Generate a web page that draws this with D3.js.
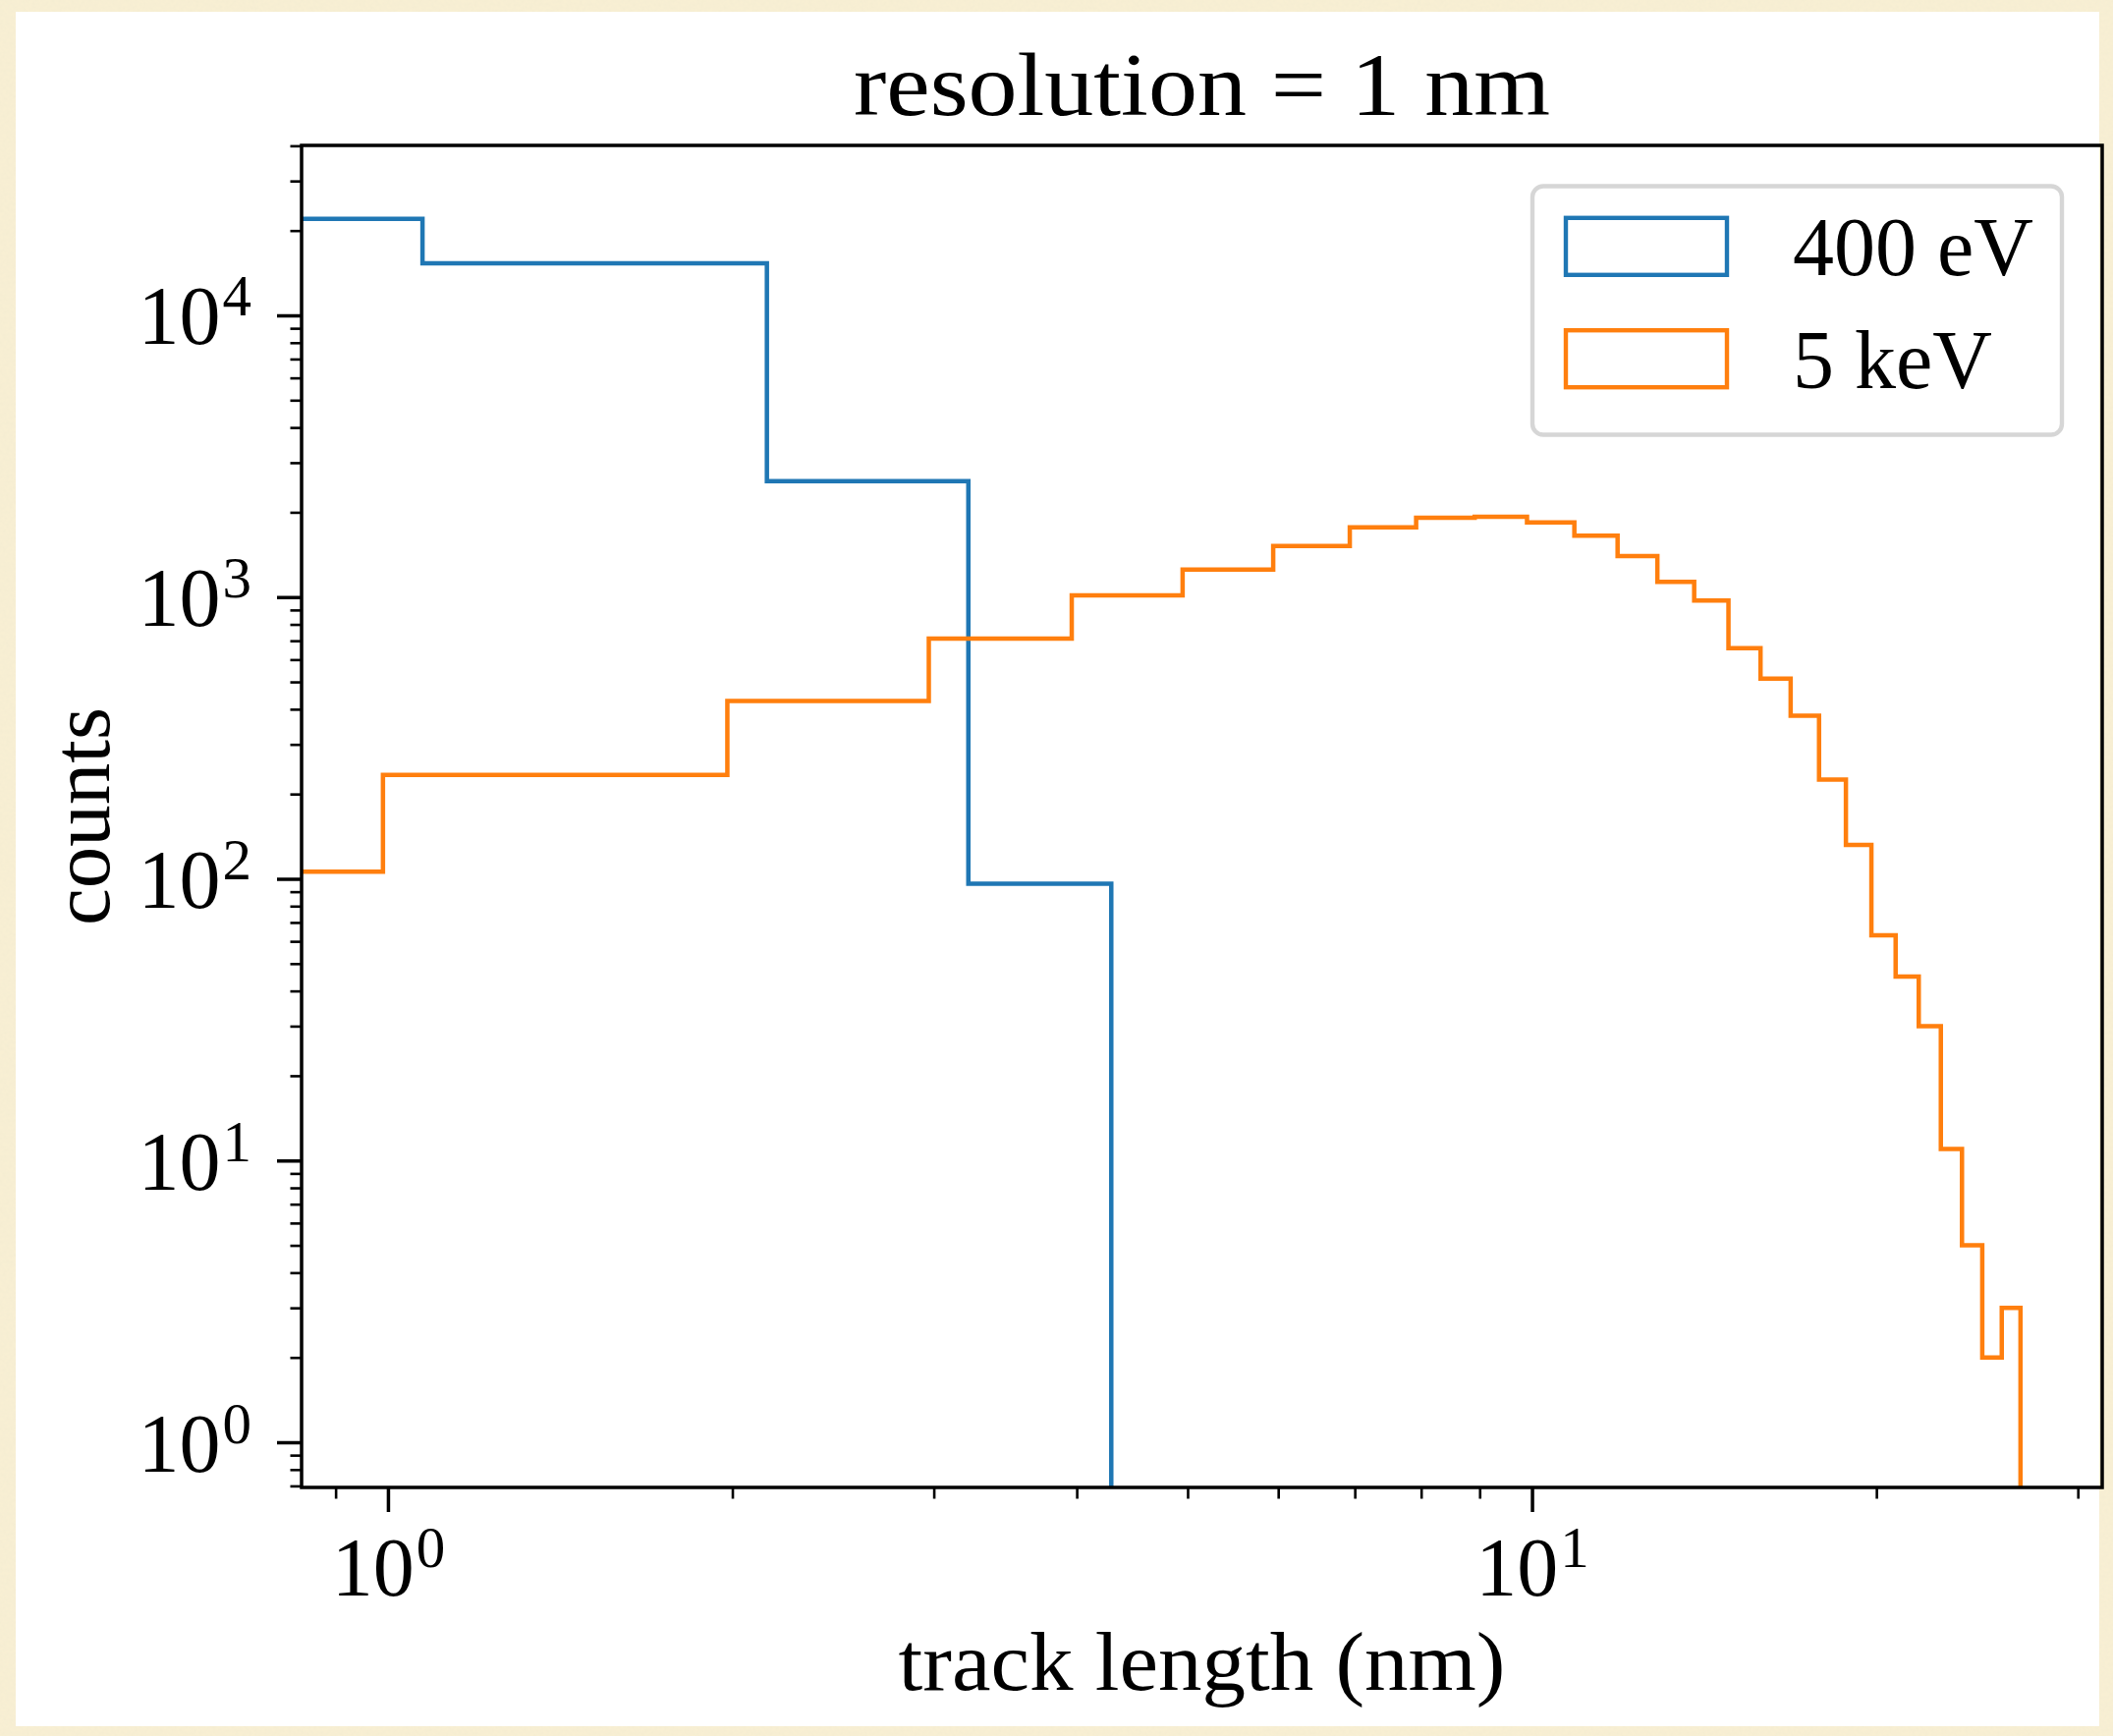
<!DOCTYPE html>
<html>
<head>
<meta charset="utf-8">
<script src="https://cdn.jsdelivr.net/npm/d3@7/dist/d3.min.js"></script>
<style>
  html, body { margin: 0; padding: 0; background: #f8efd3; }
  svg { display: block; }
  text { font-family: "Liberation Serif", "DejaVu Serif", serif; fill: #000; }
</style>
</head>
<body>
<svg id="chart" width="2151" height="1767"></svg>
<script>
// Track-length histograms (counts per bin), bins start at 0 nm
const seriesNames = ["400 eV", "5 keV"];
const seriesColors = ["#1f77b4", "#ff7f0e"];
const binWidth400 = 1.072;
const counts400 = [22030, 15300, 2580, 96];
const binWidth5k = 0.990;
const counts5k = [106, 234, 428, 712, 1014, 1252, 1519, 1769, 1912, 1928, 1841,
                  1651, 1398, 1132, 972, 659, 514, 379, 225, 132, 63, 45, 30,
                  11, 5, 2, 3];

// Axis ticks
const xMajorTicks = [1, 10];
const xMinorTicks = [0.9, 2, 3, 4, 5, 6, 7, 8, 9, 20, 30];
const yMajorTicks = [1, 10, 100, 1000, 10000];
const yMinorTicks = [0.7, 0.8, 0.9, 2, 3, 4, 5, 6, 7, 8, 9,
                     20, 30, 40, 50, 60, 70, 80, 90,
                     200, 300, 400, 500, 600, 700, 800, 900,
                     2000, 3000, 4000, 5000, 6000, 7000, 8000, 9000,
                     20000, 30000, 40000];
const xDomain = [Math.pow(10, -0.0755), Math.pow(10, 1.4984)];
const yDomain = [Math.pow(10, -0.1604), Math.pow(10, 4.6033)];

const titleText = "resolution = 1 nm";
const xLabelText = "track length (nm)";
const yLabelText = "counts";

const W = 2151, H = 1767;
const plot = { left: 307, right: 2140, top: 148, bottom: 1514 };

const svg = d3.select("#chart");
const defs = svg.append("defs");

// Paper texture for the outer margin
const paper = defs.append("filter").attr("id", "paper")
  .attr("x", 0).attr("y", 0).attr("width", "100%").attr("height", "100%");
paper.append("feTurbulence").attr("type", "fractalNoise")
  .attr("baseFrequency", 0.3).attr("numOctaves", 3).attr("seed", 7).attr("result", "noise");
paper.append("feColorMatrix").attr("in", "noise").attr("type", "matrix")
  .attr("values", "0 0 0 0 0.89  0 0 0 0 0.83  0 0 0 0 0.64  0.9 0 0 0 -0.26");

defs.append("clipPath").attr("id", "plotClip")
  .append("rect")
  .attr("x", plot.left).attr("y", plot.top)
  .attr("width", plot.right - plot.left).attr("height", plot.bottom - plot.top);

svg.append("rect").attr("width", W).attr("height", H).attr("fill", "#f8efd3");
svg.append("rect").attr("width", W).attr("height", H).attr("filter", "url(#paper)");
svg.append("rect").attr("x", 16).attr("y", 12).attr("width", 2137 - 16).attr("height", 1757 - 12)
  .attr("fill", "#ffffff");

const x = d3.scaleLog().domain(xDomain).range([plot.left, plot.right]);
const y = d3.scaleLog().domain(yDomain).range([plot.bottom, plot.top]);

// Step outline of a histogram, closed down to zero at both ends
function stepPoints(width, counts) {
  const pts = [[0, 0]];
  counts.forEach((c, i) => {
    pts.push([i * width, c]);
    pts.push([(i + 1) * width, c]);
  });
  pts.push([counts.length * width, 0]);
  return pts;
}
const xFloor = xDomain[0] / 10, yFloor = yDomain[0] / 10;
const line = d3.line()
  .x(d => x(Math.max(d[0], xFloor)))
  .y(d => y(Math.max(d[1], yFloor)));

const hist = svg.append("g").attr("clip-path", "url(#plotClip)");
[[binWidth400, counts400], [binWidth5k, counts5k]].forEach(([w, c], i) => {
  hist.append("path")
    .attr("d", line(stepPoints(w, c)))
    .attr("fill", "none")
    .attr("stroke", seriesColors[i])
    .attr("stroke-width", 4.5)
    .attr("stroke-linejoin", "miter");
});

// Axes
function supLabel(sel, anchor) {
  sel.each(function(d) {
    const t = d3.select(this);
    t.text(null).attr("text-anchor", anchor).attr("font-size", 84);
    t.append("tspan").text("10");
    t.append("tspan").attr("font-size", 59).attr("dx", 2).attr("dy", -29)
      .text(String(Math.round(Math.log10(d))));
  });
}

const gxMinor = svg.append("g").attr("transform", `translate(0,${plot.bottom})`)
  .call(d3.axisBottom(x).tickValues(xMinorTicks).tickSize(11.5).tickFormat(() => ""));
const gx = svg.append("g").attr("transform", `translate(0,${plot.bottom})`)
  .call(d3.axisBottom(x).tickValues(xMajorTicks).tickSize(25).tickFormat(() => ""));
const gyMinor = svg.append("g").attr("transform", `translate(${plot.left},0)`)
  .call(d3.axisLeft(y).tickValues(yMinorTicks).tickSize(11.5).tickFormat(() => ""));
const gy = svg.append("g").attr("transform", `translate(${plot.left},0)`)
  .call(d3.axisLeft(y).tickValues(yMajorTicks).tickSize(25).tickFormat(() => ""));

[gxMinor, gx, gyMinor, gy].forEach(g => g.select(".domain").remove());
[gxMinor, gyMinor].forEach(g => g.selectAll(".tick line").attr("stroke", "#000").attr("stroke-width", 2.6));
[gx, gy].forEach(g => g.selectAll(".tick line").attr("stroke", "#000").attr("stroke-width", 3.5));
[gxMinor, gyMinor].forEach(g => g.selectAll(".tick text").remove());

gx.selectAll(".tick text").attr("y", 1624 - plot.bottom).attr("dy", 0).call(supLabel, "middle");
gy.selectAll(".tick text").attr("x", -51).attr("dy", 0).attr("y", 29).call(supLabel, "end");
svg.selectAll(".tick text").attr("font-family", null);

// Axes frame
svg.append("rect")
  .attr("x", plot.left).attr("y", plot.top)
  .attr("width", plot.right - plot.left).attr("height", plot.bottom - plot.top)
  .attr("fill", "none").attr("stroke", "#000").attr("stroke-width", 3.5);

// Title and axis labels
const cx = (plot.left + plot.right) / 2;
svg.append("text").attr("x", cx).attr("y", 117).attr("text-anchor", "middle")
  .attr("font-size", 90).attr("textLength", 709).attr("lengthAdjust", "spacingAndGlyphs")
  .text(titleText);
svg.append("text").attr("x", cx).attr("y", 1720).attr("text-anchor", "middle")
  .attr("font-size", 84).attr("textLength", 618).attr("lengthAdjust", "spacingAndGlyphs")
  .text(xLabelText);
svg.append("text").attr("transform", `translate(111,${(plot.top + plot.bottom) / 2}) rotate(-90)`)
  .attr("text-anchor", "middle")
  .attr("font-size", 84).attr("textLength", 222).attr("lengthAdjust", "spacingAndGlyphs")
  .text(yLabelText);

// Legend
const legend = svg.append("g");
legend.append("rect")
  .attr("x", 1560).attr("y", 189.5).attr("width", 2099 - 1560).attr("height", 442.5 - 189.5)
  .attr("rx", 11).attr("ry", 11)
  .attr("fill", "#ffffff").attr("stroke", "#d6d6d6").attr("stroke-width", 4.4);
const legendRows = [250.8, 365.2];
seriesNames.forEach((name, i) => {
  legend.append("rect")
    .attr("x", 1594).attr("y", legendRows[i] - 29).attr("width", 164).attr("height", 58)
    .attr("fill", "none").attr("stroke", seriesColors[i]).attr("stroke-width", 4.4);
  legend.append("text")
    .attr("x", 1825).attr("y", legendRows[i] + 29.5)
    .attr("font-size", 84)
    .text(name);
});
</script>
</body>
</html>
